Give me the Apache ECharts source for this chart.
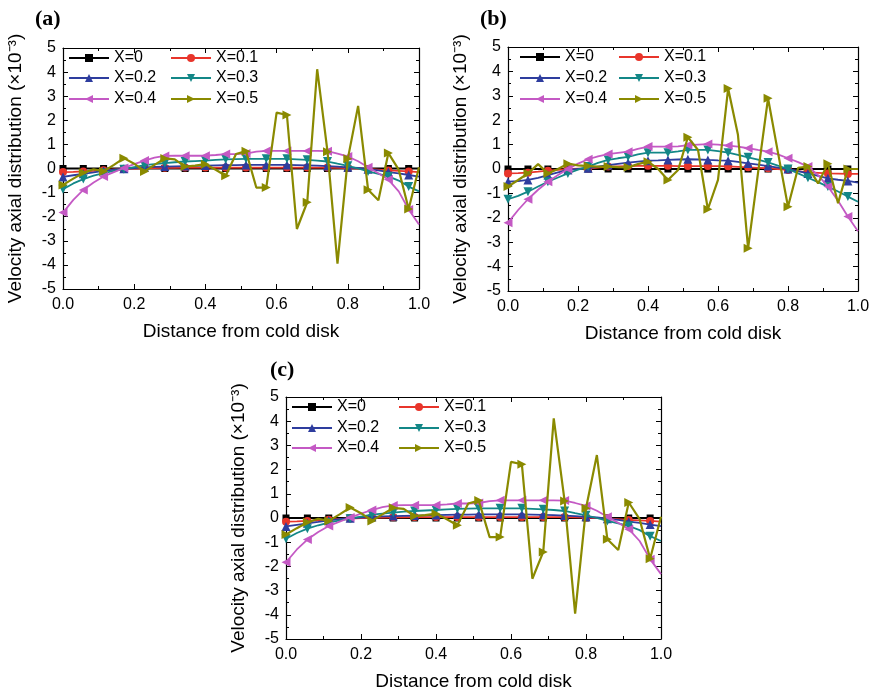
<!DOCTYPE html>
<html><head><meta charset="utf-8">
<script src="https://cdn.jsdelivr.net/npm/echarts@6/dist/echarts.min.js"></script>
<style>html,body{margin:0;padding:0;background:#fff}#c{width:879px;height:692px}</style>
</head><body><div id="c"></div>
<script>
// x positions of the computed points (every other point carries a marker)
const xs = [0,0.029,0.057,0.086,0.114,0.143,0.171,0.2,0.229,0.257,0.286,0.314,0.343,0.371,0.4,0.429,0.457,0.486,0.514,0.543,0.571,0.6,0.629,0.657,0.686,0.714,0.743,0.771,0.8,0.829,0.857,0.886,0.914,0.943,0.971,1.0];
const seriesNames = ['X=0','X=0.1','X=0.2','X=0.3','X=0.4','X=0.5'];
const panelLabels = ['(a)','(b)','(c)'];
const yTicks = [-5,-4,-3,-2,-1,0,1,2,3,4,5];
const xTicks = [0.0,0.2,0.4,0.6,0.8,1.0];

// Panel (a)
const a_X0  = [0,0,0,0,0,0,0,0,0,0,0,0,0,0,0,0,0,0,0,0,0,0,0,0,0,0,0,0,0,0,0,0,0,0,0,0];
const a_X01 = [-0.15,-0.14,-0.12,-0.1,-0.07,-0.04,-0.02,0,0.01,0.02,0.03,0.03,0.04,0.04,0.04,0.04,0.04,0.04,0.04,0.04,0.04,0.04,0.04,0.04,0.04,0.04,0.04,0.03,0.02,0,-0.02,-0.05,-0.08,-0.1,-0.12,-0.15];
const a_X02 = [-0.35,-0.28,-0.22,-0.16,-0.1,-0.05,-0.01,0.02,0.05,0.07,0.08,0.09,0.1,0.11,0.12,0.13,0.14,0.14,0.15,0.15,0.15,0.15,0.15,0.14,0.13,0.12,0.1,0.08,0.05,0.02,-0.03,-0.08,-0.15,-0.2,-0.27,-0.34];
const a_X03 = [-0.86,-0.62,-0.44,-0.3,-0.19,-0.1,-0.03,0.06,0.14,0.18,0.22,0.26,0.29,0.31,0.33,0.36,0.38,0.39,0.4,0.4,0.4,0.4,0.4,0.38,0.36,0.33,0.29,0.2,0.11,0.0,-0.12,-0.22,-0.33,-0.5,-0.75,-0.95];
const a_X04 = [-1.83,-1.3,-0.89,-0.58,-0.33,-0.15,0.02,0.18,0.33,0.45,0.52,0.53,0.53,0.53,0.53,0.56,0.6,0.6,0.62,0.7,0.73,0.73,0.73,0.73,0.73,0.73,0.72,0.62,0.5,0.3,0.05,-0.2,-0.46,-0.95,-1.7,-2.32];
const a_X05 = [-0.68,-0.42,-0.18,-0.03,-0.12,0.15,0.43,0.2,-0.12,0.15,0.42,0.38,0.08,0.12,0.18,-0.05,-0.3,0.6,0.72,-0.79,-0.79,2.32,2.22,-2.51,-1.4,4.12,0.7,-3.95,0.4,2.6,-0.88,-1.32,0.64,-0.05,-1.68,0.05];

// Panel (b)
const b_X0  = [0,0,0,0,0,0,0,0,0,0,0,0,0,0,0,0,0,0,0,0,0,0,0,0,0,0,0,0,0,0,0,0,0,0,0,0];
const b_X01 = [-0.18,-0.17,-0.15,-0.11,-0.07,-0.04,-0.01,0.01,0.02,0.06,0.1,0.11,0.12,0.13,0.13,0.13,0.13,0.12,0.12,0.12,0.12,0.12,0.11,0.09,0.07,0.05,0.03,0.0,-0.04,-0.09,-0.14,-0.16,-0.18,-0.19,-0.2,-0.2];
const b_X02 = [-0.52,-0.5,-0.45,-0.36,-0.25,-0.14,-0.04,0.0,0.03,0.1,0.16,0.21,0.26,0.3,0.34,0.35,0.37,0.39,0.4,0.39,0.37,0.35,0.34,0.29,0.23,0.18,0.12,0.06,0.0,-0.09,-0.18,-0.28,-0.38,-0.44,-0.49,-0.56];
const b_X03 = [-1.24,-1.1,-0.93,-0.72,-0.52,-0.35,-0.18,-0.03,0.1,0.25,0.37,0.44,0.5,0.6,0.67,0.67,0.67,0.72,0.78,0.78,0.78,0.73,0.67,0.58,0.48,0.38,0.27,0.14,0.0,-0.18,-0.36,-0.54,-0.72,-0.92,-1.13,-1.34];
const b_X04 = [-2.2,-1.68,-1.24,-0.85,-0.52,-0.25,0.0,0.22,0.4,0.52,0.61,0.66,0.71,0.82,0.92,0.92,0.92,0.93,0.98,1.0,1.02,1.0,0.96,0.92,0.85,0.78,0.71,0.6,0.44,0.28,0.1,-0.25,-0.72,-1.3,-1.95,-2.55];
const b_X05 = [-0.72,-0.45,-0.18,0.2,-0.18,0.0,0.22,0.15,0.12,0.1,0.1,0.08,0.07,0.2,0.3,0.0,-0.45,-0.04,1.3,0.78,-1.65,-0.45,3.3,1.4,-3.25,-0.2,2.9,0.7,-1.55,0.05,0.1,-0.59,0.22,-1.4,0.0,0.0];

// Panel (c)
const c_X0  = a_X0.slice();
const c_X01 = a_X01.slice();
const c_X02 = a_X02.slice();
const c_X03 = a_X03.slice();
const c_X04 = a_X04.slice();
const c_X05 = a_X05.slice();

const panelData = [
  [a_X0,a_X01,a_X02,a_X03,a_X04,a_X05],
  [b_X0,b_X01,b_X02,b_X03,b_X04,b_X05],
  [c_X0,c_X01,c_X02,c_X03,c_X04,c_X05]
];

const colors = ['#000000','#e8352b','#2e3d9e','#138787','#c459c4','#8a8a00'];
const symbols = ['rect','circle','triangle','path://M0,0 L10,0 L5,9 Z','path://M9,0 L9,10 L0,5 Z','path://M0,0 L0,10 L9,5 Z'];
const symSizes = [7,8,9,9,9,9];

const grids = [
  {left:63, top:48, width:356, height:241},
  {left:508, top:47, width:350, height:244},
  {left:286, top:397, width:375, height:242}
];
const legendPos = [
  {x:[68,170], y:[58,78,99]},
  {x:[519,618], y:[57,78,99]},
  {x:[291,398], y:[407,428,448]}
];
const labelPos = [[35,8],[480,8],[270,359]];

const FONT = '"Liberation Sans", Arial, Helvetica, sans-serif';
const xAxes = [], yAxes = [], series = [], legends = [], titles = [];

grids.forEach((g, p) => {
  const tick = {show:true, inside:true, length:5, lineStyle:{color:'#000', width:1}};
  const minor = {show:true, splitNumber:2, length:3, lineStyle:{color:'#000', width:1}};
  const line = {show:true, onZero:false, lineStyle:{color:'#000', width:1.2}};
  xAxes.push({
    type:'value', gridIndex:p, min:xTicks[0], max:xTicks[xTicks.length-1], interval:0.2,
    position:'bottom', axisLine:line, axisTick:tick, minorTick:minor, splitLine:{show:false},
    axisLabel:{color:'#000', fontSize:16, fontFamily:FONT, margin:8, formatter:v=>v.toFixed(1)},
    name:'Distance from cold disk', nameLocation:'middle', nameGap:33,
    nameTextStyle:{color:'#000', fontSize:19, fontFamily:FONT}
  });
  xAxes.push({
    type:'value', gridIndex:p, min:0, max:1, interval:0.2, position:'top',
    axisLine:line, axisTick:tick, minorTick:minor, splitLine:{show:false}, axisLabel:{show:false}
  });
  yAxes.push({
    type:'value', gridIndex:p, min:yTicks[0], max:yTicks[yTicks.length-1], interval:1,
    position:'left', axisLine:line, axisTick:tick, minorTick:minor, splitLine:{show:false},
    axisLabel:{color:'#000', fontSize:16, fontFamily:FONT, margin:7},
    name:'Velocity axial distribution (×10⁻³)', nameLocation:'middle', nameGap:38,
    nameTextStyle:{color:'#000', fontSize:19, fontFamily:FONT}
  });
  yAxes.push({
    type:'value', gridIndex:p, min:-5, max:5, interval:1, position:'right',
    axisLine:line, axisTick:tick, minorTick:minor, splitLine:{show:false}, axisLabel:{show:false}
  });
  panelData[p].forEach((vals, k) => {
    series.push({
      type:'line', name:seriesNames[k], xAxisIndex:2*p, yAxisIndex:2*p,
      data: vals.map((v, i) => (i % 2 === 0) ? {value:[xs[i], v]} : {value:[xs[i], v], symbol:'none'}),
      symbol:symbols[k], symbolSize:symSizes[k], showAllSymbol:true,
      color:colors[k], lineStyle:{color:colors[k], width:(k===5?2.2:1.8)},
      itemStyle:{color:colors[k]}, z: 2 + k, animation:false
    });
    const lp = legendPos[p];
    legends.push({
      data:[seriesNames[k]], left: lp.x[k % 2], top: lp.y[Math.floor(k/2)] - 8,
      itemWidth:40, itemHeight:10, padding:0, selectedMode:false,
      textStyle:{color:'#000', fontSize:16, fontFamily:FONT}
    });
  });
  titles.push({text:panelLabels[p], left:labelPos[p][0], top:labelPos[p][1], padding:0,
    textStyle:{fontFamily:'"Liberation Serif", "Times New Roman", serif', fontWeight:'bold', fontSize:22, color:'#000'}});
});

const chart = echarts.init(document.getElementById('c'), null, {renderer:'canvas'});
chart.setOption({
  backgroundColor:'#fff', animation:false,
  title: titles, grid: grids, xAxis: xAxes, yAxis: yAxes, legend: legends, series: series
});
</script></body></html>
